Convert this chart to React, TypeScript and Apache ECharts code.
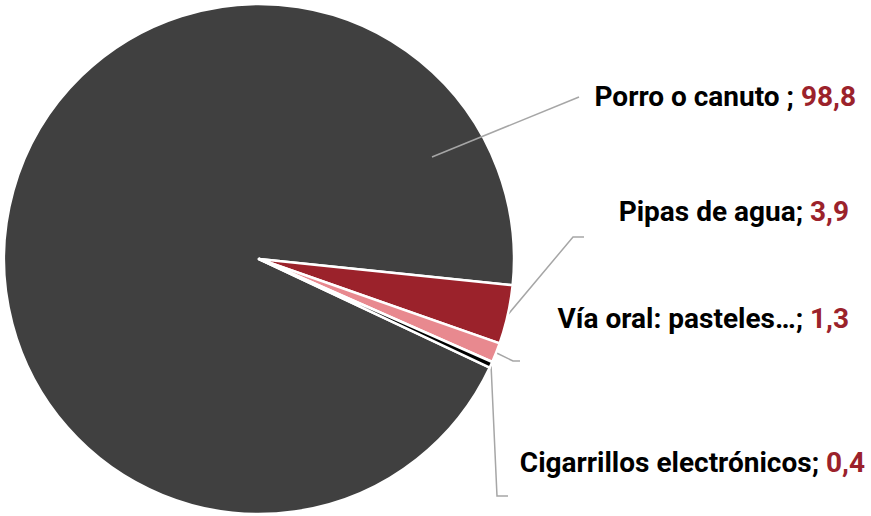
import React, { useEffect, useRef } from "react";
import * as echarts from "echarts";

const categories = ["Porro o canuto ", "Pipas de agua", "Vía oral: pasteles…", "Cigarrillos electrónicos"];
const values = [98.8, 3.9, 1.3, 0.4];
const valueLabels = ["98,8", "3,9", "1,3", "0,4"];
const sliceColors = ["#404040", "#9B222B", "#E8898F", "#000000"];

// label layout (right edge x, middle y) and leader line bends
const labelRight = [856, 849, 849, 865];
const labelMidY = [96, 211, 318, 462];
const leaderBend = [null, [573, 237], [513, 361], [497, 496]] as (number[] | null)[];
const leaderEnd = [[579, 97], [584, 237], [520, 361], [508, 496]];
const fallbackStart = [[432, 157], [507, 316], [495, 353], [489, 368]];
// the first slice's leader line is drawn over the pie, from inside it
const overlayLeader = { x1: 432, y1: 157, x2: 579, y2: 97 };

export default function App() {
  const ref = useRef<HTMLDivElement>(null);
  useEffect(() => {
    if (!ref.current) return;
    const chart = echarts.init(ref.current, null, { renderer: "svg" });
    chart.setOption({
      animation: false,
      backgroundColor: "#ffffff",
      graphic: [
        {
          type: "line",
          z: 100,
          silent: true,
          shape: overlayLeader,
          style: { stroke: "#A6A6A6", lineWidth: 1.5 },
        },
      ],
      series: [
        {
          type: "pie",
          center: [259, 259],
          radius: 255,
          startAngle: -25.2,
          clockwise: true,
          avoidLabelOverlap: false,
          silent: true,
          itemStyle: { borderColor: "#ffffff", borderWidth: 2.5 },
          label: {
            show: true,
            position: "outside",
            fontFamily: "Roboto",
            fontWeight: "bold",
            fontSize: 28,
            color: "#000000",
            formatter: (p: any) => `{a|${categories[p.dataIndex]}; }{b|${valueLabels[p.dataIndex]}}`,
            rich: {
              a: { fontFamily: "Roboto", fontWeight: "bold", fontSize: 28, color: "#000000" },
              b: { fontFamily: "Roboto", fontWeight: "bold", fontSize: 28, color: "#9B222B" },
            },
          },
          labelLine: {
            show: true,
            smooth: false,
            lineStyle: { color: "#A6A6A6", width: 1.5 },
          },
          labelLayout: (params: any) => {
            const i = params.dataIndex;
            const d = params.labelLinePoints;
            const start = i > 0 && d && d[0] ? [d[0][0], d[0][1]] : fallbackStart[i];
            const pts: number[][] = [start];
            if (leaderBend[i]) pts.push(leaderBend[i] as number[]);
            pts.push(leaderEnd[i]);
            return {
              x: labelRight[i],
              y: labelMidY[i],
              align: "right",
              verticalAlign: "middle",
              labelLinePoints: pts,
            };
          },
          data: categories.map((c, i) => ({
            name: c,
            value: values[i],
            itemStyle: { color: sliceColors[i] },
            labelLine: i === 0 ? { show: false } : undefined,
          })),
        },
      ],
    });
    return () => chart.dispose();
  }, []);
  return (
    <div
      ref={ref}
      style={{ position: "absolute", left: 0, top: 0, width: 871, height: 516, background: "#fff" }}
    />
  );
}
